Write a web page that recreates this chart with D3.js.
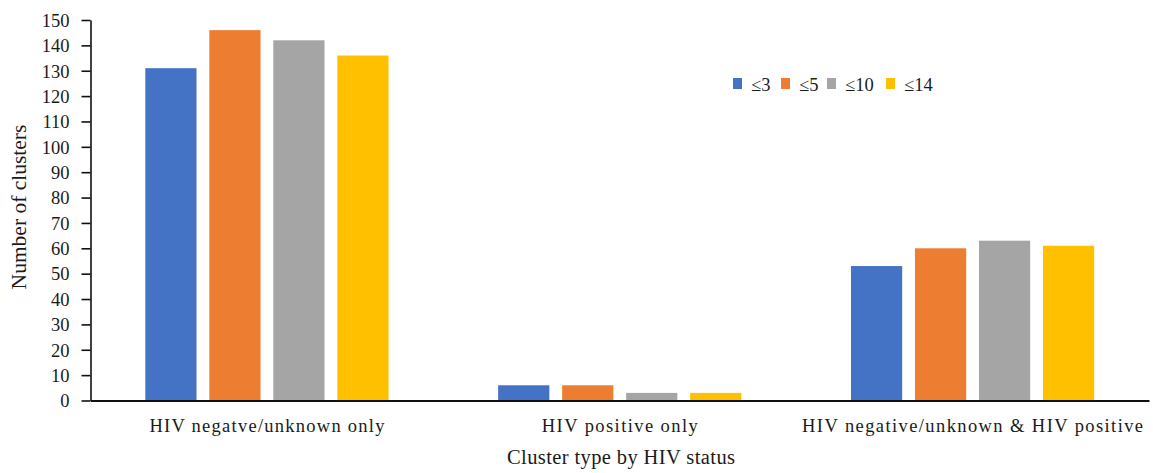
<!DOCTYPE html>
<html>
<head>
<meta charset="utf-8">
<script src="https://cdn.jsdelivr.net/npm/d3@7"></script>
<style>
  html, body { margin: 0; padding: 0; background: #fff; }
  text { font-family: "Liberation Serif", "Times New Roman", serif; fill: #1a1a1a; }
</style>
</head>
<body>
<svg id="chart" width="1153" height="473"></svg>
<script>
// Cluster counts by HIV status, for each distance threshold
const categories = ["HIV negatve/unknown only", "HIV positive only", "HIV negative/unknown & HIV positive"];
const seriesNames = ["≤3", "≤5", "≤10", "≤14"];
const seriesColors = ["#4472C4", "#ED7D31", "#A5A5A5", "#FFC000"];
const valuesLe3  = [131, 6, 53];
const valuesLe5  = [146, 6, 60];
const valuesLe10 = [142, 3, 63];
const valuesLe14 = [136, 3, 61];
const yTicks = d3.range(0, 151, 10);

const seriesValues = [valuesLe3, valuesLe5, valuesLe10, valuesLe14];
const rows = categories.map((c, i) => ({
  category: c,
  values: seriesNames.map((s, j) => ({ series: s, value: seriesValues[j][i] }))
}));

const svg = d3.select("#chart");
const margin = { left: 90.5, right: 4, top: 20, bottom: 72.5 };
const W = 1153, H = 473;

const x0 = d3.scaleBand().domain(categories).range([margin.left, W - margin.right]).padding(0);
const x1 = d3.scaleBand().domain(seriesNames)
  .range([x0.bandwidth() / 2 - 121.6, x0.bandwidth() / 2 + 121.6]).paddingInner(0.2);
const y = d3.scaleLinear().domain([0, 150]).range([H - margin.bottom, margin.top]);
const color = d3.scaleOrdinal().domain(seriesNames).range(seriesColors);

// bars
const groups = svg.append("g").selectAll("g").data(rows).join("g")
  .attr("transform", d => `translate(${x0(d.category)},0)`);
groups.selectAll("rect").data(d => d.values).join("rect")
  .attr("x", d => x1(d.series))
  .attr("width", x1.bandwidth())
  .attr("y", d => y(d.value))
  .attr("height", d => y(0) - y(d.value))
  .attr("fill", d => color(d.series));

// y axis
const yAxis = svg.append("g")
  .attr("transform", `translate(${margin.left},0)`)
  .call(d3.axisLeft(y).tickValues(yTicks).tickSize(9).tickSizeOuter(0));
yAxis.select(".domain").attr("stroke", "#111").attr("stroke-width", 1.6);
yAxis.selectAll(".tick line").attr("stroke", "#111").attr("stroke-width", 1.6);
yAxis.selectAll(".tick text")
  .attr("x", -21).attr("dy", "0.34em")
  .attr("font-size", 18.5).attr("fill", "#1a1a1a")
  .style("font-family", "'Liberation Serif', serif");

// x axis baseline with category labels
const labelWidths = [235, 156, 341];
const xAxis = svg.append("g")
  .attr("transform", `translate(0,${y(0)})`)
  .call(d3.axisBottom(x0).tickSize(0).tickSizeOuter(0));
xAxis.select(".domain").attr("stroke", "#111").attr("stroke-width", 2);
xAxis.selectAll(".tick text")
  .attr("y", 31).attr("dy", null)
  .attr("font-size", 18.5).attr("fill", "#1a1a1a")
  .attr("textLength", (d, i) => labelWidths[i])
  .attr("lengthAdjust", "spacing")
  .style("font-family", "'Liberation Serif', serif");

// axis titles
svg.append("text")
  .attr("x", 621).attr("y", 464)
  .attr("text-anchor", "middle").attr("font-size", 20.5)
  .attr("textLength", 228).attr("lengthAdjust", "spacing")
  .text("Cluster type by HIV status");
svg.append("text")
  .attr("transform", `translate(26,207) rotate(-90)`)
  .attr("text-anchor", "middle").attr("font-size", 21.5)
  .text("Number of clusters");

// legend
const legendX = [733, 781, 827, 886];
const legend = svg.append("g").selectAll("g").data(seriesNames).join("g")
  .attr("transform", (d, i) => `translate(${legendX[i]},78)`);
legend.append("rect").attr("width", 9).attr("height", 11).attr("fill", d => color(d));
legend.append("text")
  .attr("x", 18).attr("y", 12.5)
  .attr("font-size", 18.5)
  .text(d => d);
</script>
</body>
</html>
